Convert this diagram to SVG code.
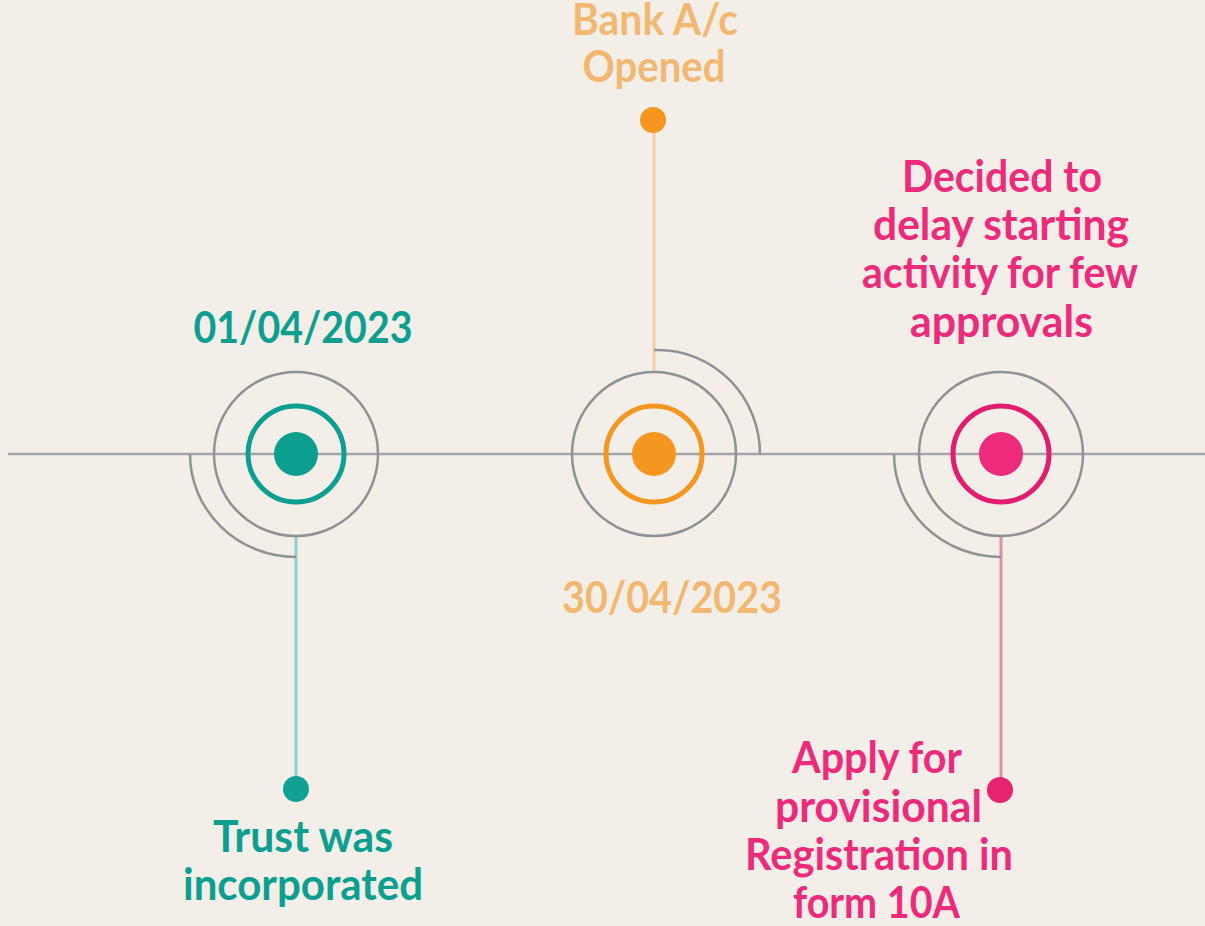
<svg xmlns="http://www.w3.org/2000/svg" width="1205" height="926" viewBox="0 0 1205 926">
<style>
.ring{fill:none;stroke:#8e9297;stroke-width:2.5}
.arc{fill:none;stroke:#8e9297;stroke-width:2.5}
.t{font-family:Lato,"Open Sans","Liberation Sans",sans-serif;font-weight:bold;font-size:44px;text-anchor:middle}
.teal{fill:#0c9f90}
.orange{fill:#f2b872}
.pink{fill:#ee2a7b}
</style>
<rect width="1205" height="926" fill="#f3eee8"/>
<g id="connectors">
<line x1="8" y1="454" x2="1205" y2="454" stroke="#a2a6aa" stroke-width="2.5"/>
<line x1="296" y1="536" x2="296" y2="788" stroke="#8fd0c8" stroke-width="3"/>
<line x1="654" y1="120" x2="654" y2="372" stroke="#f0cfa6" stroke-width="3"/>
<line x1="1001" y1="536" x2="1001" y2="790" stroke="#dd8fb0" stroke-width="3"/>
</g>
<g id="node1">
<circle class="ring" cx="296" cy="454" r="82"/>
<path class="arc" d="M190 454 A106 103 0 0 0 296 557"/>
<circle cx="296" cy="454" r="48" fill="none" stroke="#0c9f90" stroke-width="5"/>
<circle cx="296" cy="454" r="22" fill="#0c9f90"/>
<circle cx="296" cy="789" r="13" fill="#13a094"/>
<text class="t teal" x="303" y="343" textLength="219" lengthAdjust="spacingAndGlyphs">01/04/2023</text>
<text class="t teal" x="303" y="852" textLength="180" lengthAdjust="spacingAndGlyphs">Trust was</text>
<text class="t teal" x="303" y="900" textLength="240" lengthAdjust="spacingAndGlyphs">incorporated</text>
</g>
<g id="node2">
<circle class="ring" cx="654" cy="454" r="82"/>
<path class="arc" d="M654 350 L658 350 A102 104 0 0 1 760 454"/>
<circle cx="654" cy="454" r="48" fill="none" stroke="#f4961f" stroke-width="5"/>
<circle cx="654" cy="454" r="22" fill="#f4961f"/>
<circle cx="653" cy="120" r="13" fill="#f4961f"/>
<text class="t orange" x="655" y="35" font-size="42" textLength="166" lengthAdjust="spacingAndGlyphs">Bank A/c</text>
<text class="t orange" x="654" y="82" textLength="143" lengthAdjust="spacingAndGlyphs">Opened</text>
<text class="t orange" x="672" y="613" textLength="220" lengthAdjust="spacingAndGlyphs">30/04/2023</text>
</g>
<g id="node3">
<circle class="ring" cx="1001" cy="454" r="82"/>
<path class="arc" d="M894 454 A107 103 0 0 0 1001 557"/>
<circle cx="1001" cy="454" r="48" fill="none" stroke="#e21c6e" stroke-width="5"/>
<circle cx="1001" cy="454" r="22" fill="#ee2a7b"/>
<circle cx="1000" cy="790" r="13" fill="#e8236f"/>
<text class="t pink" x="1002" y="192" textLength="200" lengthAdjust="spacingAndGlyphs">Decided to</text>
<text class="t pink" x="1001" y="240" textLength="256" lengthAdjust="spacingAndGlyphs">delay starting</text>
<text class="t pink" x="1000" y="288" textLength="276" lengthAdjust="spacingAndGlyphs">activity for few</text>
<text class="t pink" x="1001.5" y="337" textLength="183" lengthAdjust="spacingAndGlyphs">approvals</text>
<text class="t pink" x="877" y="773" textLength="170" lengthAdjust="spacingAndGlyphs">Apply for</text>
<text class="t pink" x="878.5" y="822" textLength="207" lengthAdjust="spacingAndGlyphs">provisional</text>
<text class="t pink" x="879" y="870" textLength="268" lengthAdjust="spacingAndGlyphs">Registration in</text>
<text class="t pink" x="876.5" y="918" textLength="167" lengthAdjust="spacingAndGlyphs">form 10A</text>
</g>
</svg>
